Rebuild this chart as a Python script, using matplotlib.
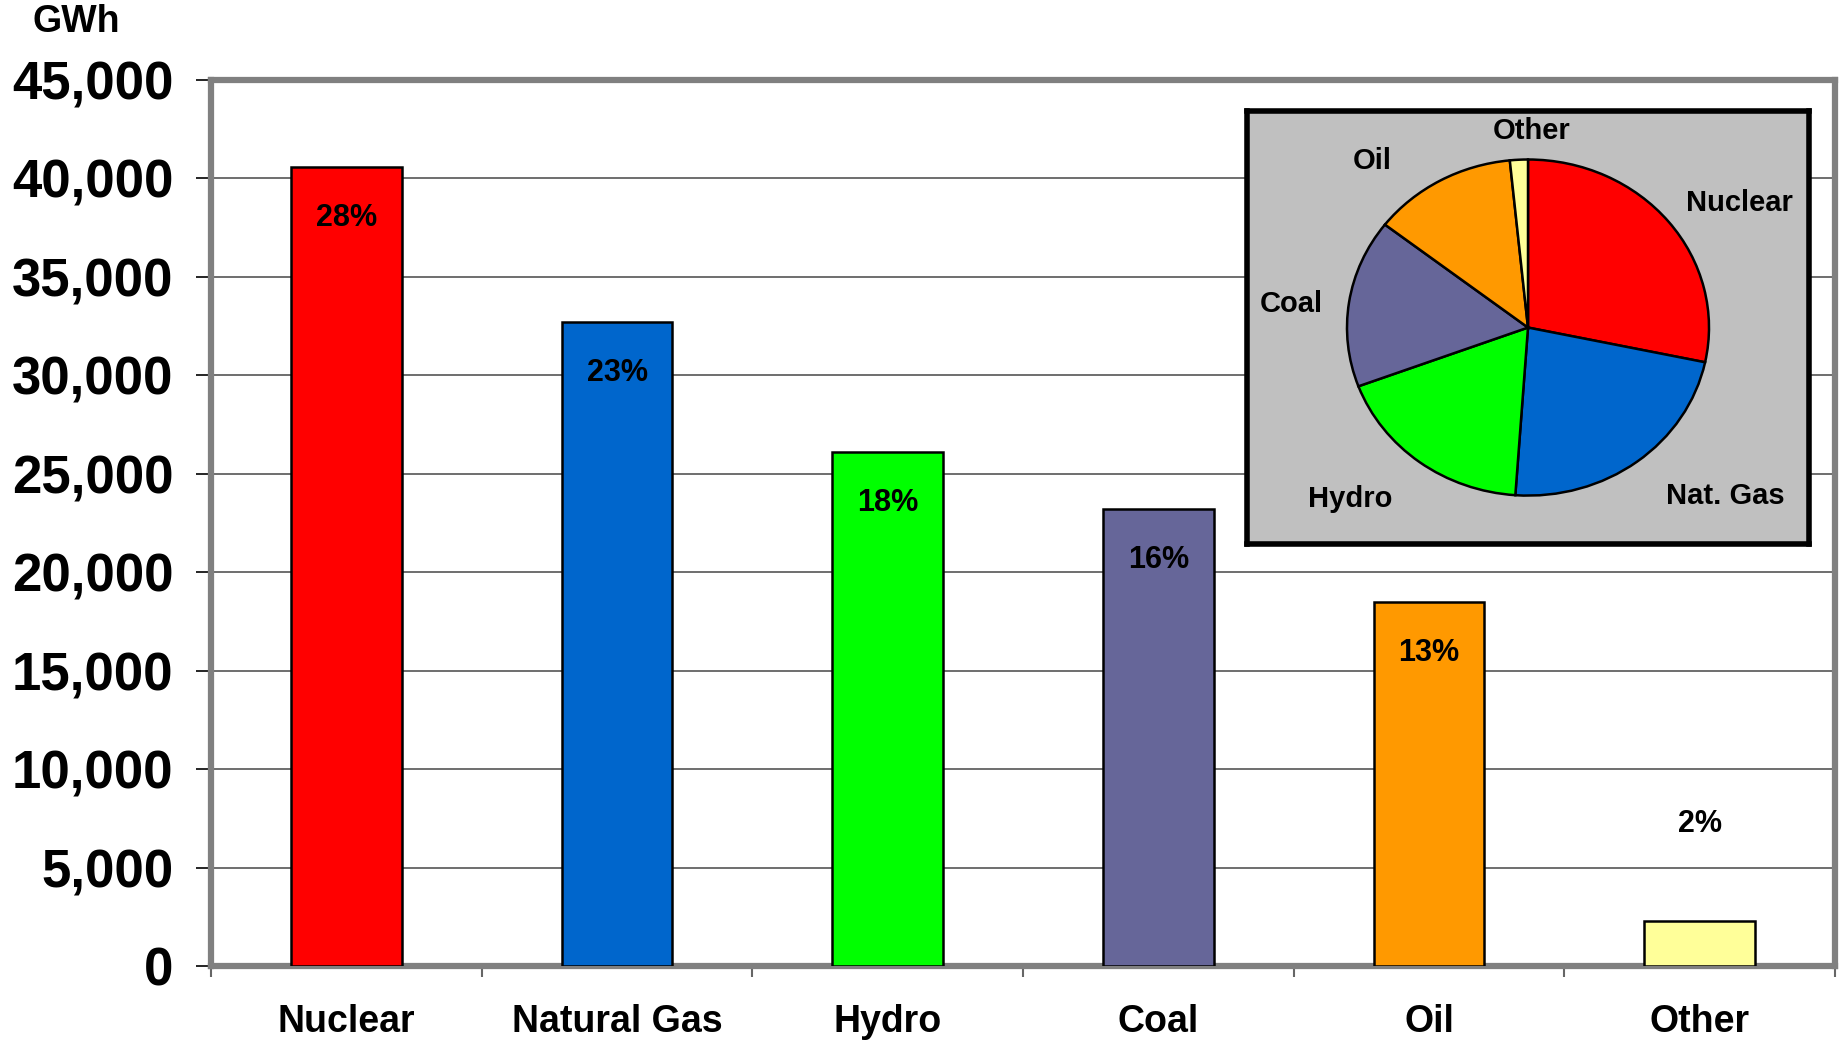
import numpy as np
import matplotlib
matplotlib.use('Agg')
import matplotlib.pyplot as plt

plt.rcParams['font.family'] = ['Liberation Sans', 'DejaVu Sans']
plt.rcParams['font.weight'] = 'bold'

### data ###
sources = ['Nuclear', 'Natural Gas', 'Hydro', 'Coal', 'Oil', 'Other']
pie_labels = ['Nuclear', 'Nat. Gas', 'Hydro', 'Coal', 'Oil', 'Other']
gwh = [40600, 32700, 26100, 23200, 18500, 2300]
shares = [28, 23, 18, 16, 13, 2]
colors = ['#FF0000', '#0066CC', '#00FF00', '#666699', '#FF9900', '#FFFF99']
yticks = np.arange(0, 45001, 5000)

# pie label spots (pie units, radius 1), roughly where the original puts them
pie_label_xy = [(1.17, 0.74), (1.09, -1.0), (-0.98, -1.02), (-1.31, 0.14), (-0.86, 0.99), (0.02, 1.17)]

fig = plt.figure(figsize=(18.41, 10.40), dpi=100)
ax = fig.add_axes([211/1841, 74/1040, (1835-211)/1841, (966-80)/1040])

x = np.arange(len(sources))
ax.bar(x, gwh, width=0.41, color=colors, edgecolor='black', linewidth=1.8, zorder=3)

for xi, v, s in zip(x, gwh, shares):
    if v > 5000:
        ax.text(xi, v - 2600, f'{s}%', ha='center', va='center', fontsize=22, fontweight='bold', zorder=4)
    else:
        ax.text(xi, v + 4900, f'{s}%', ha='center', va='center', fontsize=22, fontweight='bold', zorder=4)

ax.set_xlim(-0.5, len(sources) - 0.5)
ax.set_ylim(0, 45000)
ax.set_yticks(yticks)
ax.set_yticklabels([f'{t:,}' for t in yticks], fontsize=38, fontweight='bold')
ax.set_xticks(x)
ax.set_xticklabels(sources, fontsize=27, fontweight='bold')
ax.set_xticks(np.arange(-0.5, len(sources)), minor=True)
ax.tick_params(axis='x', which='major', length=0, pad=27)
ax.tick_params(axis='x', which='minor', length=8, width=1.5, color='#666666', direction='out')
ax.tick_params(axis='y', length=11, width=1.2, pad=16, color='black')
ax.grid(axis='y', color='#555555', linewidth=1.2, zorder=0)
for sp in ax.spines.values():
    sp.set_color('#808080')
    sp.set_linewidth(4.5)

fig.text(33/1841, 1 - 22/1040, 'GWh', ha='left', va='center', fontsize=27, fontweight='bold')

### inset pie ###
pax = fig.add_axes([1247/1841, 1 - 543.6/1040, (1809-1247)/1841, (543.6-111.5)/1040])
pax.set_facecolor('#C0C0C0')
wedges, texts = pax.pie(gwh, labels=pie_labels, colors=colors, startangle=90, counterclock=False,
                        labeldistance=1.1, frame=True,
                        wedgeprops=dict(edgecolor='black', linewidth=1.8),
                        textprops=dict(fontsize=21, fontweight='bold'))
for t, pos in zip(texts, pie_label_xy):
    t.set_position(pos)
    t.set_ha('center')
    t.set_va('center')
pax.set_aspect('auto')
pax.set_xlim(-281/181, 281/181)
pax.set_ylim(-216/168, 216/168)
pax.set_xticks([])
pax.set_yticks([])
for sp in pax.spines.values():
    sp.set_color('black')
    sp.set_linewidth(4)

plt.savefig('out.png', dpi=100)
